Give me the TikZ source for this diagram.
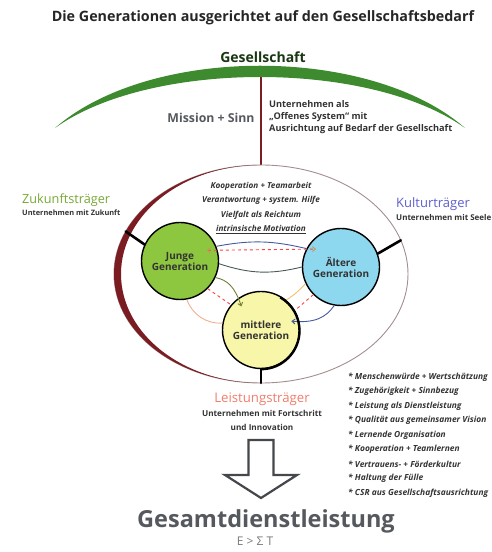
\documentclass[tikz,border=0pt]{standalone}
\usepackage{fontspec}
\setmainfont{Open Sans}
\usetikzlibrary{arrows.meta}
\definecolor{wine}{HTML}{7A1C22}
\definecolor{leaf}{HTML}{3E8A2E}
\definecolor{limegreen}{HTML}{8DC63F}
\definecolor{skyblue}{HTML}{8ED8EF}
\definecolor{cream}{HTML}{F8F6A8}
\definecolor{slate}{HTML}{4A5A5A}
\definecolor{salmon}{HTML}{F07C6C}
\definecolor{violetblue}{HTML}{5E5ECC}
\definecolor{inkgrey}{HTML}{55595E}
\definecolor{peach}{HTML}{F0B090}
\definecolor{amber}{HTML}{F2C070}
\definecolor{navyline}{HTML}{45599E}
\definecolor{olivearrow}{HTML}{6F7F3A}
\tikzset{
	genball/.style={circle, draw=black, line width=1.4pt, minimum size=77pt, inner sep=0pt, align=center, font=\bfseries\fontsize{10}{11}\selectfont, text=black!80},
	stub/.style={line width=2.6pt, line cap=round},
	linkline/.style={line width=0.9pt},
	headtip/.style={-{Straight Barb[length=3pt,width=5pt]}},
	listitem/.style={anchor=west, inner sep=0pt, font=\bfseries\itshape\fontsize{8.4}{9}\selectfont, text=black!80},
}

\begin{document}
\begin{tikzpicture}[x=1pt,y=1pt]
	\useasboundingbox (0,0) rectangle (491,552);
	\node[font=\bfseries\fontsize{14.3}{16}\selectfont, text=black!85] (title) at (263,534) {Die Generationen ausgerichtet auf den Gesellschaftsbedarf};
	\node[font=\bfseries\fontsize{14}{15}\selectfont, text=leaf!40!black] (society) at (263,495) {Gesellschaft};
	\coordinate (E) at (261,278);
	\path (E) +(0,109) coordinate (etop);
	\path (E) +(0,-109) coordinate (ebot);
	\path (E) +(157:147 and 109) coordinate (eleft);
	\path (E) +(18:147 and 109) coordinate (eright);
	\coordinate (arcmid) at (261,478);
	\draw[wine, line width=2pt] (arcmid) -- (etop);
	\fill[leaf] (55,424) .. controls (150,507) and (370,507) .. (465,424) .. controls (370,492) and (150,492) .. (55,424);
	\draw[wine!35!gray!70, line width=0.9pt] (E) ellipse [x radius=147, y radius=109];
	\fill[wine] (etop) arc[start angle=90, end angle=270, x radius=147, y radius=109] arc[start angle=270, end angle=90, x radius=140, y radius=109] -- cycle;
	\node[font=\bfseries\fontsize{12.3}{14}\selectfont, text=inkgrey] (mission) at (211,434) {Mission + Sinn};
	\node[anchor=north west, align=left, inner sep=0pt, font=\bfseries\fontsize{9.2}{12}\selectfont, text=black!80] (opensys) at (269,452) {Unternehmen als\\„Offenes System“ mit\\Ausrichtung auf Bedarf der Gesellschaft};
	\node[align=center, font=\bfseries\itshape\fontsize{8.2}{14.6}\selectfont, text=black!80] (values) at (261,344) {Kooperation + Teamarbeit\\Verantwortung + system. Hilfe\\Vielfalt als Reichtum\\\underline{intrinsische Motivation}};
	\node[genball, fill=limegreen] (young) at (180,291) {Junge\\Generation};
	\node[genball, fill=skyblue] (old) at (341,285) {Ältere\\Generation};
	\node[genball, fill=cream] (middle) at (261,222) {mittlere\\Generation};
	\draw[linkline, navyline] (young.22) to[bend left=12] (old.152);
	\draw[linkline, red!75, dashed, shorten <=-11pt, shorten >=-10pt, {Straight Barb[length=3pt,width=5pt,color=amber!80!black]}-{Straight Barb[length=3pt,width=5pt,color=amber!80!black]}] (young.16) -- (old.153);
	\draw[linkline, slate] (young.-4) to[bend right=16] (old.180);
	\draw[linkline, olivearrow, headtip, shorten >=-9pt] (young.-25) to[bend left=30] (middle.125);
	\draw[linkline, red!75, dashed] (young.-45) -- (middle.140);
	\draw[linkline, peach] (young.-80) to[bend right=35] (middle.170);
	\draw[linkline, amber] (old.205) to[bend left=8] (middle.50);
	\draw[linkline, red!75, dashed] (old.225) -- (middle.30);
	\draw[linkline, navyline, headtip, shorten >=-8pt] (old.260) to[bend left=30] (middle.12);
	\draw[stub] (eleft) -- (young.155);
	\draw[stub] (old.20) -- (eright);
	\draw[stub] (middle.-90) -- (ebot);
	\draw[line width=2.4pt] (middle.-90) arc[start angle=-90, end angle=60, radius=38.5];
	\node[anchor=south west, inner sep=0pt, font=\fontsize{12.7}{13}\selectfont, text=limegreen!85!black] (future) at (22,345) {Zukunftsträger};
	\node[anchor=north west, inner sep=0pt, font=\bfseries\fontsize{7.4}{9}\selectfont, text=black!80] (futuresub) at (22,342) {Unternehmen mit Zukunft};
	\node[anchor=south west, inner sep=0pt, font=\fontsize{13}{13}\selectfont, text=violetblue] (culture) at (396,341) {Kulturträger};
	\node[anchor=north west, inner sep=0pt, font=\bfseries\fontsize{8}{9}\selectfont, text=black!80] (culturesub) at (396,338) {Unternehmen mit Seele};
	\node[font=\fontsize{13.2}{14}\selectfont, text=salmon] (perform) at (262,153) {Leistungsträger};
	\node[align=center, font=\bfseries\fontsize{8.2}{14}\selectfont, text=black!80] (performsub) at (262,132) {Unternehmen mit Fortschritt\\und Innovation};
	\draw[line width=2.2pt, inkgrey!80!black, fill=white, line join=miter] (248.5,112) -- (273.5,112) -- (273.5,77) -- (297,77) -- (261,54) -- (225,77) -- (248.5,77) -- cycle;
	\node[font=\bfseries\fontsize{23.5}{26}\selectfont, text=inkgrey] (total) at (266,31) {Gesamtdienstleistung};
	\node[font=\fontsize{12}{13}\selectfont, text=inkgrey!80] (formula) at (255,11) {E > Σ T};
	\node[listitem] (l1) at (348,175) {* Menschenwürde + Wertschätzung};
	\node[listitem] (l2) at (348,160.5) {* Zugehörigkeit + Sinnbezug};
	\node[listitem] (l3) at (348,146) {* Leistung als Dienstleistung};
	\node[listitem] (l4) at (348,131.5) {* Qualität aus gemeinsamer Vision};
	\node[listitem] (l5) at (348,117) {* Lernende Organisation};
	\node[listitem] (l6) at (348,102.5) {* Kooperation + Teamlernen};
	\node[listitem] (l7) at (348,88) {* Vertrauens- + Förderkultur};
	\node[listitem] (l8) at (348,73.5) {* Haltung der Fülle};
	\node[listitem] (l9) at (348,59) {* CSR aus Gesellschaftsausrichtung};
\end{tikzpicture}
\end{document}
